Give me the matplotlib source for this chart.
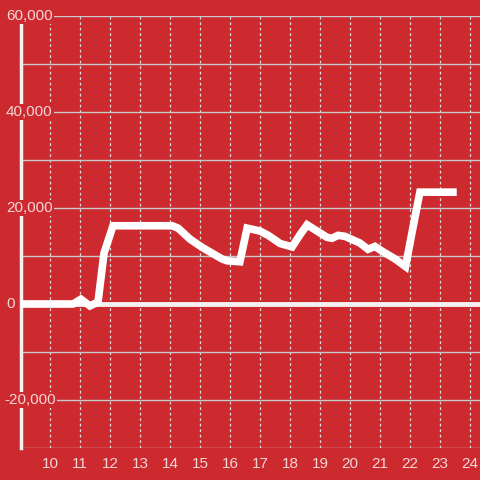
import matplotlib
matplotlib.use('Agg')
import matplotlib.pyplot as plt
import matplotlib.transforms as mtransforms

# --- data ---
hours = [9.03, 10.77, 11.03, 11.33, 11.6, 11.8, 12.1, 14.07, 14.27, 14.67, 15.07,
         15.4, 15.73, 15.9, 16.33, 16.57, 17.0, 17.3, 17.67, 18.07, 18.33, 18.57,
         18.9, 19.23, 19.4, 19.6, 19.83, 20.33, 20.6, 20.83, 21.07, 21.5, 21.85,
         22.07, 22.33, 23.43]
values = [0, 0, 1000, -400, 400, 10600, 16300, 16300, 15800, 13500, 11800,
          10600, 9400, 9000, 8800, 15800, 15200, 14200, 12600, 11900, 14400, 16500,
          15200, 13900, 13700, 14300, 14100, 12700, 11400, 12000, 11000, 9400, 7800,
          15000, 23300, 23300]
x_ticks = list(range(10, 25))
y_ticks = [-20000, 0, 20000, 40000, 60000]
y_grid = [-30000, -20000, -10000, 10000, 20000, 30000, 40000, 50000, 60000]

red = '#cc2a2f'
txt = '#f3d6d6'

plt.rcParams['font.family'] = ['Liberation Sans', 'DejaVu Sans']

fig = plt.figure(figsize=(4.8, 4.8), dpi=100)
fig.patch.set_facecolor(red)
ax = fig.add_axes([21/480, 32/480, 459/480, 432/480])
ax.set_facecolor(red)

ax.set_xlim(9.033, 24.333)
ax.set_ylim(-30000, 60000)

# grid
for x in x_ticks:
    ax.axvline(x, color='#dcdcdc', lw=0.9, ls=(0, (2.2, 2.2)), zorder=1)
for y in y_grid:
    ax.axhline(y, color='#c9c9c9', lw=1.0, zorder=1)
ax.axhline(0, color='#f2f2f2', lw=3.5, zorder=2)

ax.plot(hours, values, color='white', lw=5.5, solid_joinstyle='miter', zorder=3)

for s in ['top', 'right', 'bottom']:
    ax.spines[s].set_visible(False)
ax.spines['left'].set_color('#f2f2f2')
ax.spines['left'].set_linewidth(2.5)
ax.spines['left'].set_bounds(-30000, 58500)
ax.spines['left'].set_zorder(2)

ax.set_xticks([])
ax.set_yticks([])

for x in x_ticks:
    ax.text(x, -33400, str(x), ha='center', va='center', color=txt, fontsize=11,
            clip_on=False)

tr = mtransforms.blended_transform_factory(ax.transAxes, ax.transData)
for y in y_ticks:
    xpos = -17/459 if y < 0 else -15/459
    ax.text(xpos, y, f'{y:,}', transform=tr, ha='left', va='center', color=txt,
            fontsize=11, zorder=5, clip_on=False,
            bbox=dict(facecolor=red, edgecolor='none', pad=1.0))

fig.savefig('out.png', dpi=100, facecolor=red)
